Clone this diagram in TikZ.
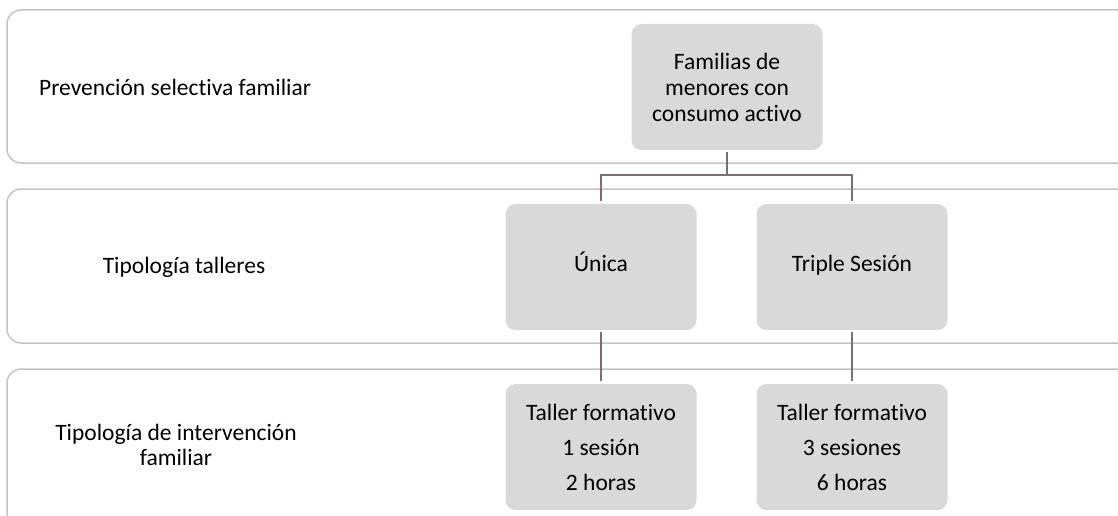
\documentclass[tikz,border=0pt]{standalone}
\usepackage{fontspec}
\setmainfont{Carlito}[Ligatures=NoCommon]
\usepackage{xcolor}
\usepackage{tikz}
\usetikzlibrary{positioning}
\definecolor{bandgray}{RGB}{196,196,196}
\definecolor{boxgray}{RGB}{217,217,217}
\definecolor{linebrown}{RGB}{124,111,112}
\tikzset{
  % bandas de fondo
  band/.style={
    draw=bandgray,
    line width=1.5pt,
    rounded corners=14pt
  },
  % cajas grises
  box/.style={
    fill=boxgray,
    rounded corners=10pt,
    minimum width=191pt,
    minimum height=126pt,
    inner sep=0pt,
    align=center,
    font=\fontsize{23.5}{26}\selectfont
  },
  % una sola linea
  oneline/.style={text height=2.3ex, text depth=0.5ex},
  % etiquetas de la izquierda
  lab/.style={
    align=center,
    inner sep=0pt,
    font=\fontsize{23.5}{25}\selectfont
  },
  % conectores
  conn/.style={draw=linebrown, line width=2pt, shorten <=2pt, shorten >=3pt},
}

\begin{document}
\begin{tikzpicture}[x=1pt,y=-1pt]
        \useasboundingbox (0,0) rectangle (1118,516);
        \clip (0,0) rectangle (1118,516);

        % Bandas
        \draw[band] (7,10) rectangle (1150,163);
        \draw[band] (7,189) rectangle (1150,343);
        \draw[band] (7,369) rectangle (1150,560);

        % Etiquetas
        \node[lab, anchor=west] (prev) at (39,87) {Prevención selectiva familiar};
        \node[lab] (talleres) at (184,267) {Tipología talleres};
        \node[lab] (interv) at (176,445) {Tipología de intervención\\familiar};

        % Cajas
        \node[box] (fam) at (727,87) {Familias de\\menores con\\consumo activo};
        \node[box, oneline] (unica) at (601,267) {Única};
        \node[box, oneline] (triple) at (852,267) {Triple Sesión};
        \node[box] (taller1) at (601,447) {Taller formativo\\[9pt]1 sesión\\[9pt]2 horas};
        \node[box] (taller3) at (852,447) {Taller formativo\\[9pt]3 sesiones\\[9pt]6 horas};

        % Conectores
        \draw[conn] (fam.south) -- ++(0,25) -| (unica.north);
        \draw[conn] (fam.south) -- ++(0,25) -| (triple.north);
        \draw[conn] (unica) -- (taller1);
        \draw[conn] (triple) -- (taller3);
    \end{tikzpicture}
\end{document}
